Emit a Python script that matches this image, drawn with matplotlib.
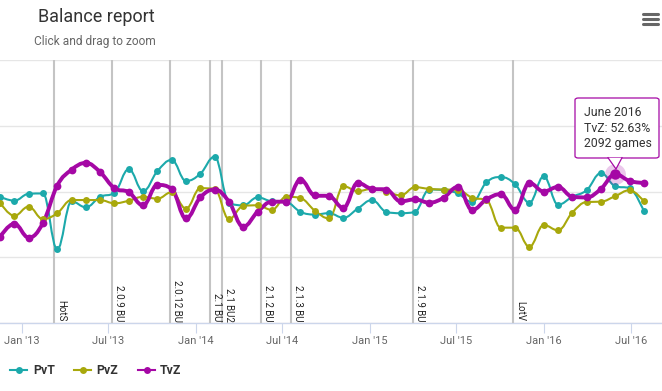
import matplotlib
matplotlib.use("Agg")
import matplotlib.pyplot as plt
import matplotlib.dates as mdates
from matplotlib.path import Path
from matplotlib.patches import PathPatch, FancyBboxPatch, Polygon
from matplotlib.lines import Line2D
import pandas as pd

plt.rcParams['font.family'] = ['Roboto', 'DejaVu Sans']

# ---------------- data ----------------
series_names = ["PvT", "PvZ", "TvZ"]
series_colors = ["#1ca9ab", "#a8a80c", "#a508a5"]
start_date = "2012-11-16"
n_points = 46
pvt = [49.2, 48.6, 49.65, 49.7, 41.2, 48.5, 47.6, 49.2, 49.8, 53.4,
       50.05, 53.1, 54.8, 51.6, 52.7, 55.3, 48.3, 47.9, 49.1, 48.5,
       48.4, 46.9, 46.5, 46.7, 46.0, 47.4, 48.7, 46.9, 46.7, 46.9,
       50.3, 50.2, 49.7, 48.4, 51.4, 52.2, 51.1, 48.3, 52.3, 48.0,
       49.2, 50.2, 52.8, 50.8, 50.5, 47.0]
pvz = [48.3, 46.3, 47.7, 45.8, 46.7, 48.7, 48.7, 48.7, 48.2, 48.6,
       49.2, 48.9, 49.9, 47.4, 50.5, 50.4, 45.8, 47.8, 47.9, 47.2,
       49.2, 49.0, 47.1, 45.9, 50.8, 50.05, 50.4, 50.0, 49.4, 50.65,
       50.4, 50.3, 50.25, 49.05, 48.7, 44.5, 44.5, 41.6, 44.9, 44.1,
       46.8, 48.4, 48.45, 49.3, 50.2, 48.5]
tvz = [43.1, 45.1, 43.0, 45.2, 50.9, 53.3, 54.35, 52.95, 50.5, 49.9,
       47.9, 51.0, 50.4, 45.9, 49.1, 50.3, 48.45, 44.65, 46.9, 48.45,
       48.45, 51.8, 49.4, 49.3, 47.5, 51.3, 50.4, 50.3, 48.5, 48.8,
       48.3, 49.05, 50.7, 47.2, 48.8, 49.6, 47.2, 51.3, 50.0, 50.7,
       49.2, 49.1, 50.4, 52.63, 51.6, 51.3]
event_labels = ["HotS", "2.0.9 BU", "2.0.12 BU", "2.1 BU", "2.1 BU2",
                "2.1.2 BU", "2.1.3 BU", "2.1.9 BU", "LotV"]
event_dates = ["2013-03-10", "2013-07-08", "2013-11-08", "2014-01-31",
               "2014-02-25", "2014-05-17", "2014-07-19", "2015-03-31",
               "2015-10-28"]
x_end = "2016-09-04"
y_min, y_max = 30, 70
tooltip_index = 43
tooltip_lines = ["June 2016", "TvZ: 52.63%", "2092 games"]

dates = pd.date_range(start_date, periods=n_points, freq="30D")
xs = mdates.date2num(dates.to_pydatetime())


def spline_path(xv, yv, smoothing=1.5):
    n = len(xv)
    denom = smoothing + 1
    left = [None] * n
    right = [None] * n
    for i in range(n):
        x, y = xv[i], yv[i]
        if 0 < i < n - 1:
            lx, ly = xv[i - 1], yv[i - 1]
            nx, ny = xv[i + 1], yv[i + 1]
            lcx = (smoothing * x + lx) / denom
            lcy = (smoothing * y + ly) / denom
            rcx = (smoothing * x + nx) / denom
            rcy = (smoothing * y + ny) / denom
            corr = 0.0
            if rcx != lcx:
                corr = ((rcy - lcy) * (rcx - x)) / (rcx - lcx) + y - rcy
            lcy += corr
            rcy += corr
            if lcy > ly and lcy > y:
                lcy = max(ly, y); rcy = 2 * y - lcy
            elif lcy < ly and lcy < y:
                lcy = min(ly, y); rcy = 2 * y - lcy
            if rcy > ny and rcy > y:
                rcy = max(ny, y); lcy = 2 * y - rcy
            elif rcy < ny and rcy < y:
                rcy = min(ny, y); lcy = 2 * y - rcy
            left[i] = (lcx, lcy)
            right[i] = (rcx, rcy)
        else:
            left[i] = (x, y)
            right[i] = (x, y)
    verts = [(xv[0], yv[0])]
    codes = [Path.MOVETO]
    for i in range(1, n):
        verts += [right[i - 1], left[i], (xv[i], yv[i])]
        codes += [Path.CURVE4] * 3
    return Path(verts, codes)


W, H = 662, 391
fig = plt.figure(figsize=(W / 100, H / 100), dpi=100)
fig.patch.set_facecolor("white")


def fx(px):
    return px / W


def fy(py):
    return 1 - py / H


ax = fig.add_axes([0, fy(323), 1.0, fy(60) - fy(323)])
ax.set_facecolor("white")
ax.set_xlim(xs[0], mdates.date2num(pd.Timestamp(x_end).to_pydatetime()))
ax.set_ylim(y_min, y_max)

for s in ["left", "right", "top"]:
    ax.spines[s].set_visible(False)
ax.spines["bottom"].set_color("#ccd6eb")
ax.spines["bottom"].set_linewidth(1)
ax.spines["bottom"].set_zorder(0.5)

ax.set_yticks([30, 40, 50, 60, 70])
ax.yaxis.grid(True, color="#e6e6e6", linewidth=1)
ax.tick_params(axis="y", left=False, labelleft=False)
ax.set_axisbelow(True)

ax.xaxis.set_major_locator(mdates.MonthLocator(bymonth=[1, 7]))
ax.xaxis.set_major_formatter(mdates.DateFormatter("%b '%y"))
ax.tick_params(axis="x", direction="out", length=7.2, width=0.8,
               color="#ccd6eb", labelcolor="#666666", labelsize=8, pad=2)

# plot lines (events)
for lab, d in zip(event_labels, event_dates):
    dn = mdates.date2num(pd.Timestamp(d).to_pydatetime())
    ax.axvline(dn, color="#c4c4c4", linewidth=1.5, zorder=1)
    ax.annotate(lab, xy=(dn, 0), xycoords=("data", "axes fraction"),
                xytext=(2, 1.5), textcoords="offset pixels",
                rotation=270, ha="left", va="bottom", fontsize=7,
                color="#222222", zorder=2)

# series
widths = [1.5, 1.5, 2.8]
msizes = [5.0, 5.0, 5.6]
for name, vals, col, lw, ms in zip(series_names, [pvt, pvz, tvz],
                                   series_colors, widths, msizes):
    p = spline_path(list(xs), vals)
    ax.add_patch(PathPatch(p, fill=False, edgecolor=col, linewidth=lw,
                           zorder=3, capstyle="round", joinstyle="round"))
    ax.plot(xs, vals, linestyle="none", marker="o", markersize=ms,
            color=col, markeredgewidth=0, zorder=4)

# hovered point
hx, hy = xs[tooltip_index], tvz[tooltip_index]
ax.plot([hx], [hy], marker="o", markersize=15, color=series_colors[2],
        alpha=0.22, markeredgewidth=0, zorder=5, clip_on=False)
ax.plot([hx], [hy], marker="o", markersize=7.5, color=series_colors[2],
        markeredgewidth=0, zorder=6, clip_on=False)

# tooltip (image-pixel coordinates)
bx0, by0, bx1, by1 = 575, 98, 659, 158
box = FancyBboxPatch((fx(bx0), fy(by1)), fx(bx1 - bx0), fy(by0) - fy(by1),
                     boxstyle="round,pad=0,rounding_size=0.005",
                     transform=fig.transFigure, facecolor="white",
                     edgecolor=series_colors[2], linewidth=0.9, zorder=10)
fig.add_artist(box)
tipx = 615
tri = Polygon([(fx(tipx - 7), fy(by1)), (fx(tipx + 7), fy(by1)),
               (fx(tipx + 1), fy(169))], closed=True,
              transform=fig.transFigure, facecolor="white",
              edgecolor="none", zorder=11)
fig.add_artist(tri)
fig.add_artist(Line2D([fx(tipx - 7), fx(tipx + 1), fx(tipx + 7)],
                      [fy(by1 - 0.3), fy(169), fy(by1 - 0.3)],
                      transform=fig.transFigure, color=series_colors[2],
                      linewidth=0.9, zorder=12))
for i, t in enumerate(tooltip_lines):
    fig.text(fx(584), fy(113 + 15 * i), t, fontsize=8.8, color="#333333",
             ha="left", va="center", zorder=13)

# title / subtitle
fig.text(fx(38), fy(17), "Balance report", fontsize=13, color="#333333",
         ha="left", va="center")
fig.text(fx(34), fy(41), "Click and drag to zoom", fontsize=8.6,
         color="#666666", ha="left", va="center")

# menu icon
for yy in (14, 19, 24):
    fig.add_artist(Line2D([fx(643), fx(658)], [fy(yy), fy(yy)],
                          transform=fig.transFigure, color="#666666",
                          linewidth=2.2, solid_capstyle="round"))

# legend
leg_sym_x = [10, 74, 138]
leg_txt_x = [33, 96, 160]
leg_y = 370
for name, col, sx, tx in zip(series_names, series_colors, leg_sym_x, leg_txt_x):
    fig.add_artist(Line2D([fx(sx), fx(sx + 17)], [fy(leg_y), fy(leg_y)],
                          transform=fig.transFigure, color=col, linewidth=1.5))
    fig.add_artist(Line2D([fx(sx + 8.5)], [fy(leg_y)], marker="o",
                          markersize=5, markeredgewidth=0, color=col,
                          transform=fig.transFigure))
    fig.text(fx(tx), fy(leg_y), name, fontsize=8.8, fontweight="bold",
             color="#333333", ha="left", va="center")

fig.savefig("out.png", dpi=100)
